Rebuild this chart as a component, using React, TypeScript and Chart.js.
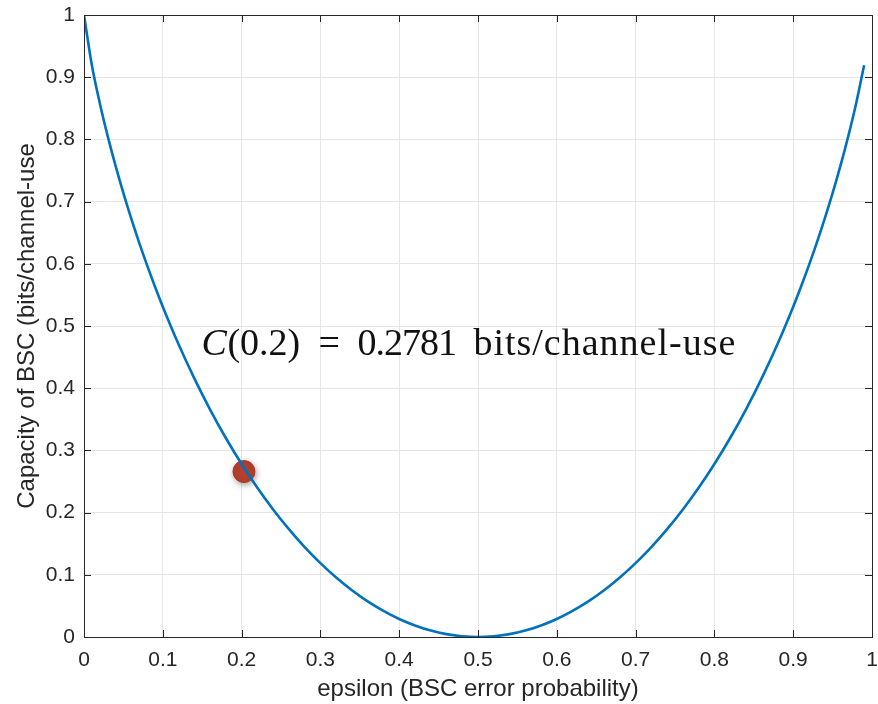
import React, { useEffect, useRef } from "react";
import { Chart, registerables } from "chart.js";

Chart.register(...registerables);

// Curve samples
const epsilon = [
  0, 0.01, 0.02, 0.03, 0.04, 0.05, 0.06, 0.07, 0.08, 0.09, 0.1,
  0.12, 0.14, 0.16, 0.18, 0.2, 0.22, 0.24, 0.26, 0.28, 0.3,
  0.32, 0.34, 0.36, 0.38, 0.4, 0.42, 0.44, 0.46, 0.48, 0.5,
  0.52, 0.54, 0.56, 0.58, 0.6, 0.62, 0.64, 0.66, 0.68, 0.7,
  0.72, 0.74, 0.76, 0.78, 0.8, 0.82, 0.84, 0.86, 0.88, 0.9,
  0.91, 0.92, 0.93, 0.94, 0.95, 0.96, 0.97, 0.98, 0.99,
];
const capacity = [
  1.0, 0.9192, 0.8586, 0.8056, 0.7577, 0.7136, 0.6726, 0.6341, 0.5978, 0.5635, 0.531,
  0.4706, 0.4158, 0.3657, 0.3199, 0.2781, 0.2398, 0.205, 0.1733, 0.1445, 0.1187,
  0.0956, 0.0752, 0.0573, 0.042, 0.029, 0.0186, 0.0104, 0.0046, 0.0012, 0.0,
  0.0012, 0.0046, 0.0104, 0.0186, 0.029, 0.042, 0.0573, 0.0752, 0.0956, 0.1187,
  0.1445, 0.1733, 0.205, 0.2398, 0.2781, 0.3199, 0.3657, 0.4158, 0.4706, 0.531,
  0.5635, 0.5978, 0.6341, 0.6726, 0.7136, 0.7577, 0.8056, 0.8586, 0.9192,
];

// Highlighted point
const markerX = [0.203];
const markerY = [0.266];

// Annotation text pieces (first piece is the italic math symbol)
const annotationParts = ["C", "(0.2)", "=", "0.2781", "bits/channel-use"];
const annotationAt = { x: 0.149, y: 0.4537 };

const xTicks = [0, 0.1, 0.2, 0.3, 0.4, 0.5, 0.6, 0.7, 0.8, 0.9, 1];
const yTicks = [0, 0.1, 0.2, 0.3, 0.4, 0.5, 0.6, 0.7, 0.8, 0.9, 1];

const xTitle = "epsilon (BSC error probability)";
const yTitle = "Capacity of BSC (bits/channel-use";

const AXIS = "#262626";
const GRID = "#e6e6e6";
const SANS = '"Liberation Sans", Arial, Helvetica, sans-serif';
const SERIF = '"Liberation Serif", "Times New Roman", serif';

export default function App() {
  const ref = useRef<HTMLCanvasElement | null>(null);

  useEffect(() => {
    if (!ref.current) return;

    const framePlugin = {
      id: "frame",
      beforeDatasetDraw(chart: any, args: any) {
        if (args.index === 1) {
          const ctx = chart.ctx;
          ctx.save();
          ctx.shadowColor = "rgba(0,0,0,0.35)";
          ctx.shadowBlur = 6;
          ctx.shadowOffsetX = 1;
          ctx.shadowOffsetY = 2;
        }
      },
      afterDatasetDraw(chart: any, args: any) {
        if (args.index === 1) chart.ctx.restore();
      },
      afterDraw(chart: any) {
        const { ctx, chartArea: a, scales } = chart;
        const xs = scales.x;
        const ys = scales.y;
        ctx.save();
        // box
        ctx.strokeStyle = AXIS;
        ctx.lineWidth = 1;
        ctx.strokeRect(
          Math.round(a.left) + 0.5,
          Math.round(a.top) + 0.5,
          Math.round(a.right - a.left),
          Math.round(a.bottom - a.top)
        );
        // inner ticks
        const tl = 7;
        ctx.beginPath();
        xTicks.forEach((v) => {
          const px = Math.round(xs.getPixelForValue(v)) + 0.5;
          ctx.moveTo(px, a.bottom);
          ctx.lineTo(px, a.bottom - tl);
          ctx.moveTo(px, a.top);
          ctx.lineTo(px, a.top + tl);
        });
        yTicks.forEach((v) => {
          const py = Math.round(ys.getPixelForValue(v)) + 0.5;
          ctx.moveTo(a.left, py);
          ctx.lineTo(a.left + tl, py);
          ctx.moveTo(a.right, py);
          ctx.lineTo(a.right - tl, py);
        });
        ctx.stroke();

        // y axis title
        ctx.fillStyle = AXIS;
        ctx.font = `24px ${SANS}`;
        ctx.textAlign = "center";
        ctx.textBaseline = "middle";
        ctx.translate(27, (a.top + a.bottom) / 2);
        ctx.rotate(-Math.PI / 2);
        ctx.fillText(yTitle, 0, 0);
        ctx.restore();

        // annotation (LaTeX-like spacing)
        ctx.save();
        ctx.fillStyle = "#111111";
        ctx.textBaseline = "alphabetic";
        ctx.textAlign = "left";
        const x0 = xs.getPixelForValue(annotationAt.x);
        const y0 = ys.getPixelForValue(annotationAt.y);
        const offsets = [0, 26, 117, 156, 272];
        annotationParts.forEach((p, i) => {
          ctx.font = i === 0 ? `italic 38px ${SERIF}` : `38px ${SERIF}`;
          (ctx as any).letterSpacing = i === 4 ? "1px" : i === 3 ? "-1px" : "0px";
          ctx.fillText(p, x0 + offsets[i], y0);
        });
        ctx.restore();
      },
    };

    const chart = new Chart(ref.current, {
      type: "line",
      data: {
        datasets: [
          {
            data: epsilon.map((e, i) => ({ x: e, y: capacity[i] })),
            borderColor: "#0072BD",
            borderWidth: 2.6,
            pointRadius: 0,
            fill: false,
            tension: 0,
            cubicInterpolationMode: "monotone",
          },
          {
            type: "scatter",
            data: markerX.map((e, i) => ({ x: e, y: markerY[i] })),
            backgroundColor: "#b5402b",
            borderColor: "#a9382a",
            borderWidth: 1,
            pointRadius: 11,
          },
        ],
      } as any,
      options: {
        animation: false,
        responsive: false,
        maintainAspectRatio: false,
        layout: { autoPadding: false, padding: { left: 0, top: 15, right: 0, bottom: 0 } },
        plugins: {
          legend: { display: false },
          tooltip: { enabled: false },
        },
        scales: {
          x: {
            type: "linear",
            min: 0,
            max: 1,
            afterBuildTicks: (s: any) => {
              s.ticks = xTicks.map((v) => ({ value: v }));
            },
            afterFit: (s: any) => {
              s.height = 67;
              s.paddingLeft = 0;
              s.paddingRight = 6;
            },
            grid: { color: GRID, drawTicks: false },
            border: { display: false },
            ticks: {
              color: AXIS,
              font: { family: SANS, size: 21 },
              padding: 11,
              maxRotation: 0,
              callback: (v: any) => String(v),
            },
            title: {
              display: true,
              text: xTitle,
              color: AXIS,
              font: { family: SANS, size: 24 },
              padding: { top: 1, bottom: 0 },
            },
          },
          y: {
            type: "linear",
            min: 0,
            max: 1,
            afterBuildTicks: (s: any) => {
              s.ticks = yTicks.map((v) => ({ value: v }));
            },
            afterFit: (s: any) => {
              s.width = 84;
              s.paddingTop = 0;
              s.paddingBottom = 0;
            },
            grid: { color: GRID, drawTicks: false },
            border: { display: false },
            ticks: {
              color: AXIS,
              font: { family: SANS, size: 21 },
              padding: 9,
              callback: (v: any) => String(v),
            },
          },
        },
      } as any,
      plugins: [framePlugin],
    });

    return () => chart.destroy();
  }, []);

  return (
    <div style={{ position: "fixed", left: 0, top: 0, width: 878, height: 704, background: "#fff" }}>
      <canvas ref={ref} width={878} height={704} style={{ width: 878, height: 704 }} />
    </div>
  );
}
